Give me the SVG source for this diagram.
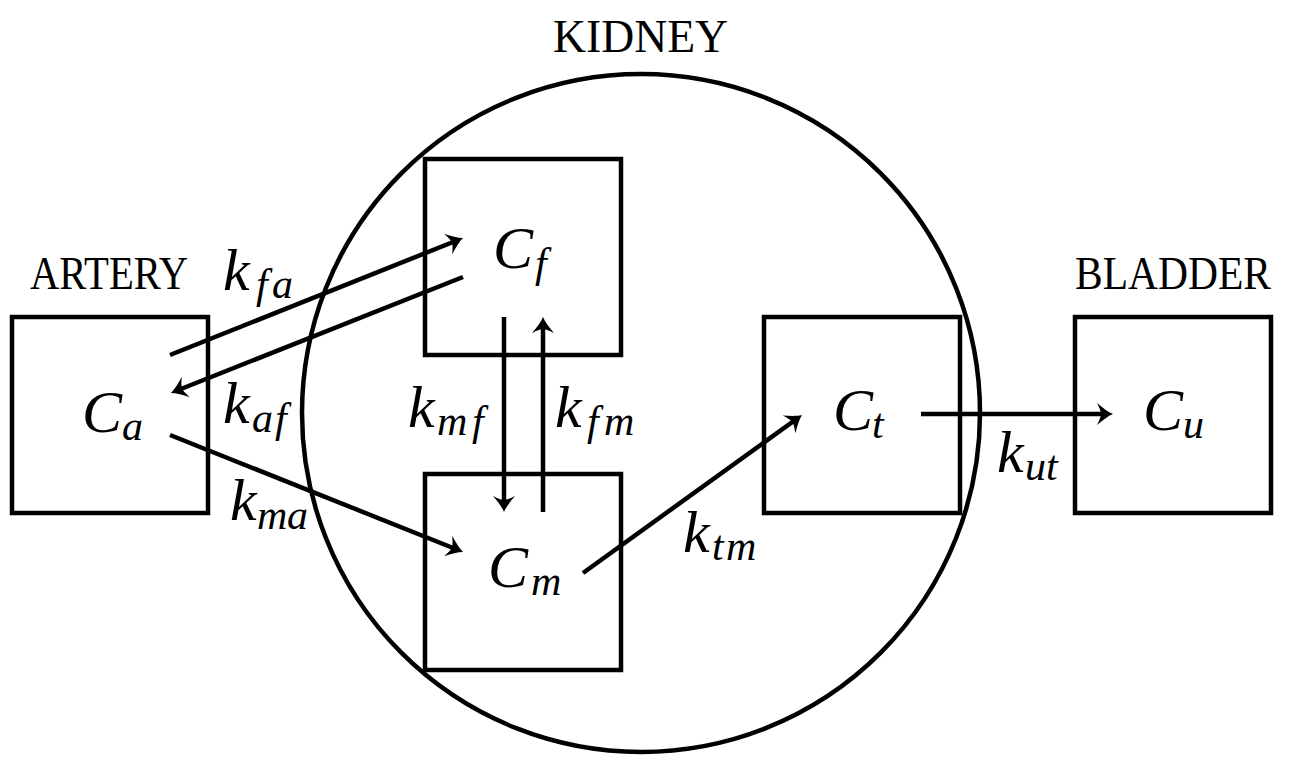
<svg xmlns="http://www.w3.org/2000/svg" width="1290" height="766" viewBox="0 0 1290 766">
<style>
  .box { fill: none; stroke: #000; stroke-width: 4.5; }
  .edge { fill: none; stroke: #000; stroke-width: 4.5; marker-end: url(#arr); }
  .lbl { font-family: "Liberation Serif", "Times New Roman", Times, "Noto Serif", "DejaVu Serif", serif; font-size: 46px; fill: #000; }
  .m { font-family: "Liberation Serif", "Times New Roman", Times, "Noto Serif", "DejaVu Serif", serif; font-style: italic; font-size: 60px; fill: #000; }
  .s { font-size: 42px; }
</style>
<defs>
  <marker id="arr" markerUnits="userSpaceOnUse" orient="auto" refX="0" refY="0" markerWidth="40" markerHeight="40" overflow="visible">
    <path d="M8,0 C3,-2 -2,-6 -8,-11 C-5,-5 -4,-2 -4,0 C-4,2 -5,5 -8,11 C-2,6 3,2 8,0 Z" fill="#000"/>
  </marker>
</defs>
<rect width="1290" height="766" fill="#fff"/>

<g id="kidney">
  <circle cx="641" cy="413" r="339" class="box"/>
  <text class="lbl" x="553" y="52" textLength="175" lengthAdjust="spacingAndGlyphs">KIDNEY</text>
</g>

<g id="artery">
  <text class="lbl" x="30" y="289" textLength="158" lengthAdjust="spacingAndGlyphs">ARTERY</text>
  <rect class="box" x="12" y="317" width="196" height="196"/>
  <text class="m" x="82" y="432">C<tspan class="s" x="122" y="440">a</tspan></text>
</g>

<g id="cf">
  <rect class="box" x="425" y="159" width="196" height="196"/>
  <text class="m" x="493" y="268">C<tspan class="s" x="535" y="277">f</tspan></text>
</g>

<g id="cm">
  <rect class="box" x="425" y="474" width="196" height="196"/>
  <text class="m" x="488" y="587">C<tspan class="s" x="531" y="595">m</tspan></text>
</g>

<g id="ct">
  <rect class="box" x="764" y="317" width="196" height="196"/>
  <text class="m" x="833" y="430">C<tspan class="s" x="872" y="438">t</tspan></text>
</g>

<g id="bladder">
  <text class="lbl" x="1075" y="289" textLength="196" lengthAdjust="spacingAndGlyphs">BLADDER</text>
  <rect class="box" x="1075" y="317" width="196" height="196"/>
  <text class="m" x="1143" y="430">C<tspan class="s" x="1183" y="438">u</tspan></text>
</g>

<g id="connectors">
  <line class="edge" x1="170" y1="355" x2="455.6" y2="241"/>
  <line class="edge" x1="463" y1="277" x2="178.4" y2="390"/>
  <line class="edge" x1="170" y1="435" x2="455.6" y2="549"/>
  <line class="edge" x1="504" y1="317" x2="504" y2="504"/>
  <line class="edge" x1="543" y1="512" x2="543" y2="325"/>
  <line class="edge" x1="583" y1="573" x2="795.5" y2="419.7"/>
  <line class="edge" x1="921" y1="414" x2="1105" y2="414"/>

  <text class="m" x="223" y="290">k<tspan class="s" x="256" y="298">f</tspan><tspan class="s" x="272" y="298">a</tspan></text>
  <text class="m" x="223" y="423">k<tspan class="s" x="252" y="432">a</tspan><tspan class="s" x="275" y="432">f</tspan></text>
  <text class="m" x="230" y="520">k<tspan class="s" x="257" y="529">m</tspan><tspan class="s" x="287" y="529">a</tspan></text>
  <text class="m" x="408" y="427">k<tspan class="s" x="437" y="435">m</tspan><tspan class="s" x="472" y="435">f</tspan></text>
  <text class="m" x="555" y="427">k<tspan class="s" x="587" y="435">f</tspan><tspan class="s" x="604" y="435">m</tspan></text>
  <text class="m" x="683" y="552">k<tspan class="s" x="712" y="560">t</tspan><tspan class="s" x="726" y="560">m</tspan></text>
  <text class="m" x="997" y="472">k<tspan class="s" x="1025" y="480">u</tspan><tspan class="s" x="1046" y="480">t</tspan></text>
</g>
</svg>
